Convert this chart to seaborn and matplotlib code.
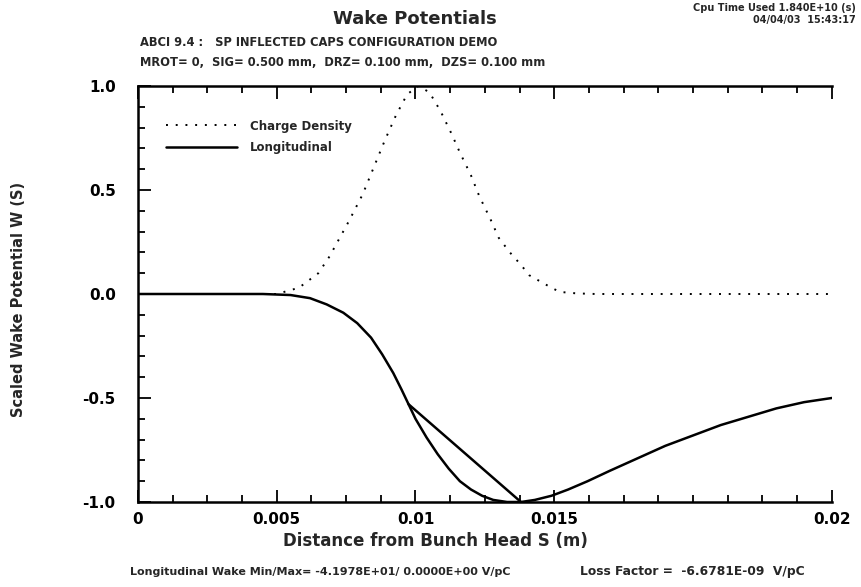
import matplotlib
matplotlib.use("Agg")
import matplotlib.pyplot as plt
from matplotlib.ticker import MultipleLocator, FixedLocator, FixedFormatter
import seaborn as sns
import pandas as pd

# Charge density of the bunch (normalised to peak = 1)
s_charge = [0.0, 0.0050, 0.0058, 0.0065, 0.0069, 0.0076, 0.0081, 0.0085, 0.0089,
            0.0093, 0.0097, 0.0101, 0.0105, 0.0109, 0.0113, 0.0116, 0.0120,
            0.0123, 0.0127, 0.0130, 0.0134, 0.0138, 0.0141, 0.0145, 0.0149,
            0.0152, 0.0158, 0.0165, 0.0250]
charge = [0.0, 0.0, 0.03, 0.10, 0.18, 0.35, 0.48, 0.61, 0.74,
          0.86, 0.96, 1.00, 0.97, 0.88, 0.77, 0.68, 0.57,
          0.47, 0.36, 0.27, 0.20, 0.14, 0.09, 0.06, 0.03,
          0.01, 0.003, 0.0, 0.0]

# Longitudinal wake potential (normalised to |min| = 1)
s_wake = [0.0, 0.0045, 0.0055, 0.0062, 0.0068, 0.0074, 0.0079, 0.0084, 0.0088,
          0.0092, 0.0095, 0.00975, 0.0100, 0.0104, 0.0108, 0.0112, 0.0116,
          0.0120, 0.0124, 0.0128, 0.0133, 0.0138, 0.0143, 0.0149, 0.0155,
          0.0162, 0.0170, 0.0180, 0.0190, 0.0200, 0.0210, 0.0220, 0.0230,
          0.0240, 0.0250]
wake = [0.0, 0.0, -0.005, -0.02, -0.05, -0.09, -0.14, -0.21, -0.29,
        -0.38, -0.46, -0.53, -0.60, -0.69, -0.77, -0.84, -0.90,
        -0.94, -0.97, -0.99, -1.0, -1.0, -0.99, -0.97, -0.94,
        -0.90, -0.85, -0.79, -0.73, -0.68, -0.63, -0.59, -0.55,
        -0.52, -0.50]

# Closing chord of the wake trace
s_chord = [0.00975, 0.0138]
chord = [-0.53, -1.0]

x_ticks = [0.0, 0.005, 0.010, 0.015, 0.025]
x_tick_labels = ["0", "0.005", "0.01", "0.015", "0.02"]
y_ticks = [-1.0, -0.5, 0.0, 0.5, 1.0]
y_tick_labels = ["-1.0", "-0.5", "0.0", "0.5", "1.0"]

sns.set_style("ticks")
plt.rcParams["font.family"] = ["DejaVu Sans"]
plt.rcParams["font.weight"] = "bold"

fig = plt.figure(figsize=(8.62, 5.87), dpi=100)
ax = fig.add_axes([0.160, 0.1448, 0.805, 0.7087])

df_c = pd.DataFrame({"s": s_charge, "v": charge})
df_w = pd.DataFrame({"s": s_wake, "v": wake})
df_k = pd.DataFrame({"s": s_chord, "v": chord})

sns.lineplot(data=df_c, x="s", y="v", ax=ax, color="black", lw=1.4,
             linestyle=(0, (1, 4)), label="Charge Density", sort=False)
sns.lineplot(data=df_w, x="s", y="v", ax=ax, color="black", lw=1.8,
             label="Longitudinal", sort=False)
sns.lineplot(data=df_k, x="s", y="v", ax=ax, color="black", lw=1.8,
             legend=False, sort=False)

ax.set_xlim(0, 0.025)
ax.set_ylim(-1.0, 1.0)
ax.set_xlabel("")
ax.set_ylabel("")

ax.xaxis.set_major_locator(FixedLocator(x_ticks))
ax.xaxis.set_major_formatter(FixedFormatter(x_tick_labels))
ax.xaxis.set_minor_locator(MultipleLocator(0.00125))
ax.yaxis.set_major_locator(FixedLocator(y_ticks))
ax.yaxis.set_major_formatter(FixedFormatter(y_tick_labels))
ax.yaxis.set_minor_locator(MultipleLocator(0.1))

ax.tick_params(which="both", direction="in", top=True, right=False,
               colors="black", labelsize=11, width=1.3)
ax.tick_params(which="major", length=9)
ax.tick_params(axis="y", which="major", pad=16)
ax.tick_params(axis="x", which="major", pad=7)
ax.tick_params(which="minor", length=5)
for lab in ax.get_xticklabels() + ax.get_yticklabels():
    lab.set_fontweight("bold")

for side in ["left", "bottom", "top"]:
    ax.spines[side].set_linewidth(1.8)
    ax.spines[side].set_color("black")
ax.spines["right"].set_visible(False)

ax.legend(loc="upper left", bbox_to_anchor=(0.025, 0.945), frameon=False,
          handlelength=6.0, handletextpad=1.1, labelspacing=0.75,
          prop={"weight": "bold", "size": 8.5})

fig.text(0.481, 0.968, "Wake Potentials", ha="center", va="center",
         fontsize=13, fontweight="bold")
fig.text(0.993, 0.986, "Cpu Time Used 1.840E+10 (s)", ha="right", va="center",
         fontsize=7, fontweight="bold")
fig.text(0.993, 0.966, "04/04/03  15:43:17", ha="right", va="center",
         fontsize=7, fontweight="bold")
fig.text(0.162, 0.928, "ABCI 9.4 :   SP INFLECTED CAPS CONFIGURATION DEMO",
         ha="left", va="center", fontsize=8.3, fontweight="bold")
fig.text(0.162, 0.893, "MROT= 0,  SIG= 0.500 mm,  DRZ= 0.100 mm,  DZS= 0.100 mm",
         ha="left", va="center", fontsize=8.3, fontweight="bold")
fig.text(0.505, 0.078, "Distance from Bunch Head S (m)", ha="center",
         va="center", fontsize=12, fontweight="bold")
fig.text(0.022, 0.49, "Scaled Wake Potential W (S)", ha="center",
         va="center", rotation=90, fontsize=10.5, fontweight="bold")
fig.text(0.151, 0.026,
         "Longitudinal Wake Min/Max= -4.1978E+01/ 0.0000E+00 V/pC",
         ha="left", va="center", fontsize=8, fontweight="bold")
fig.text(0.673, 0.026, "Loss Factor =  -6.6781E-09  V/pC", ha="left",
         va="center", fontsize=8.8, fontweight="bold")

fig.savefig("out.png", dpi=100, facecolor="white")
